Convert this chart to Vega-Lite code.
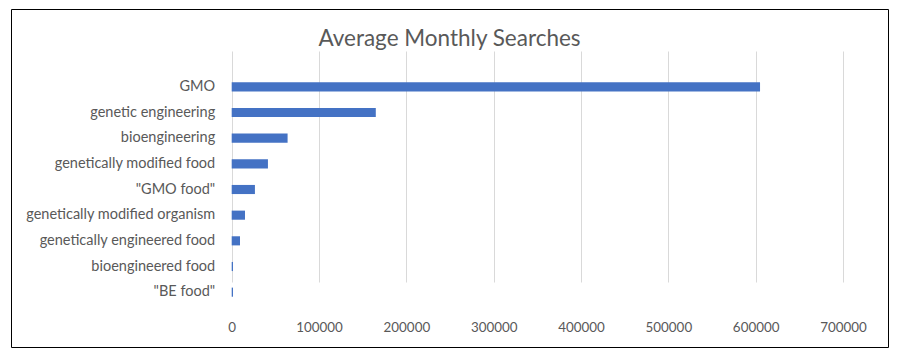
{
  "$schema": "https://vega.github.io/schema/vega-lite/v6.json",
  "autosize": {"type": "none"},
  "padding": {"left": 11, "top": 9, "right": 12, "bottom": 13},
  "width": 877,
  "height": 338,
  "background": "white",
  "title": {
    "text": "Average Monthly Searches",
    "anchor": "middle",
    "frame": "group",
    "baseline": "alphabetic",
    "offset": -59,
    "font": "Lato",
    "fontSize": 22.5,
    "fontWeight": "normal",
    "color": "#595959"
  },
  "data": {
    "values": [
      {"term": "GMO", "searches": 605000},
      {"term": "genetic engineering", "searches": 165000},
      {"term": "bioengineering", "searches": 64000},
      {"term": "genetically modified food", "searches": 41500},
      {"term": "\"GMO food\"", "searches": 26600},
      {"term": "genetically modified organism", "searches": 15200},
      {"term": "genetically engineered food", "searches": 9500},
      {"term": "bioengineered food", "searches": 1500},
      {"term": "\"BE food\"", "searches": 1500}
    ]
  },
  "mark": {"type": "bar", "color": "#4472C4"},
  "encoding": {
    "y": {
      "field": "term",
      "type": "nominal",
      "sort": null,
      "scale": {"range": [65, 296], "paddingInner": 0.645, "paddingOuter": 0.3225},
      "axis": {
        "title": null,
        "orient": "left",
        "offset": -220.7,
        "domain": false,
        "ticks": false,
        "tickSize": 0,
        "labelPadding": 17,
        "labelLimit": 0,
        "labelFont": "Lato",
        "labelFontSize": 14.5,
        "labelColor": "#595959",
        "grid": false
      }
    },
    "x": {
      "field": "searches",
      "type": "quantitative",
      "scale": {"domain": [0, 700000], "nice": false, "range": [220.7, 832]},
      "axis": {
        "title": null,
        "orient": "bottom",
        "offset": -42,
        "values": [0, 100000, 200000, 300000, 400000, 500000, 600000, 700000],
        "format": "d",
        "domain": false,
        "ticks": false,
        "tickSize": 0,
        "labelPadding": 26,
        "labelBaseline": "alphabetic",
        "labelFont": "Lato",
        "labelFontSize": 13.4,
        "labelColor": "#595959",
        "labelFlush": false,
        "grid": true,
        "gridColor": "#d9d9d9",
        "gridWidth": 1
      }
    }
  },
  "config": {
    "view": {"stroke": "black", "strokeWidth": 1}
  }
}
